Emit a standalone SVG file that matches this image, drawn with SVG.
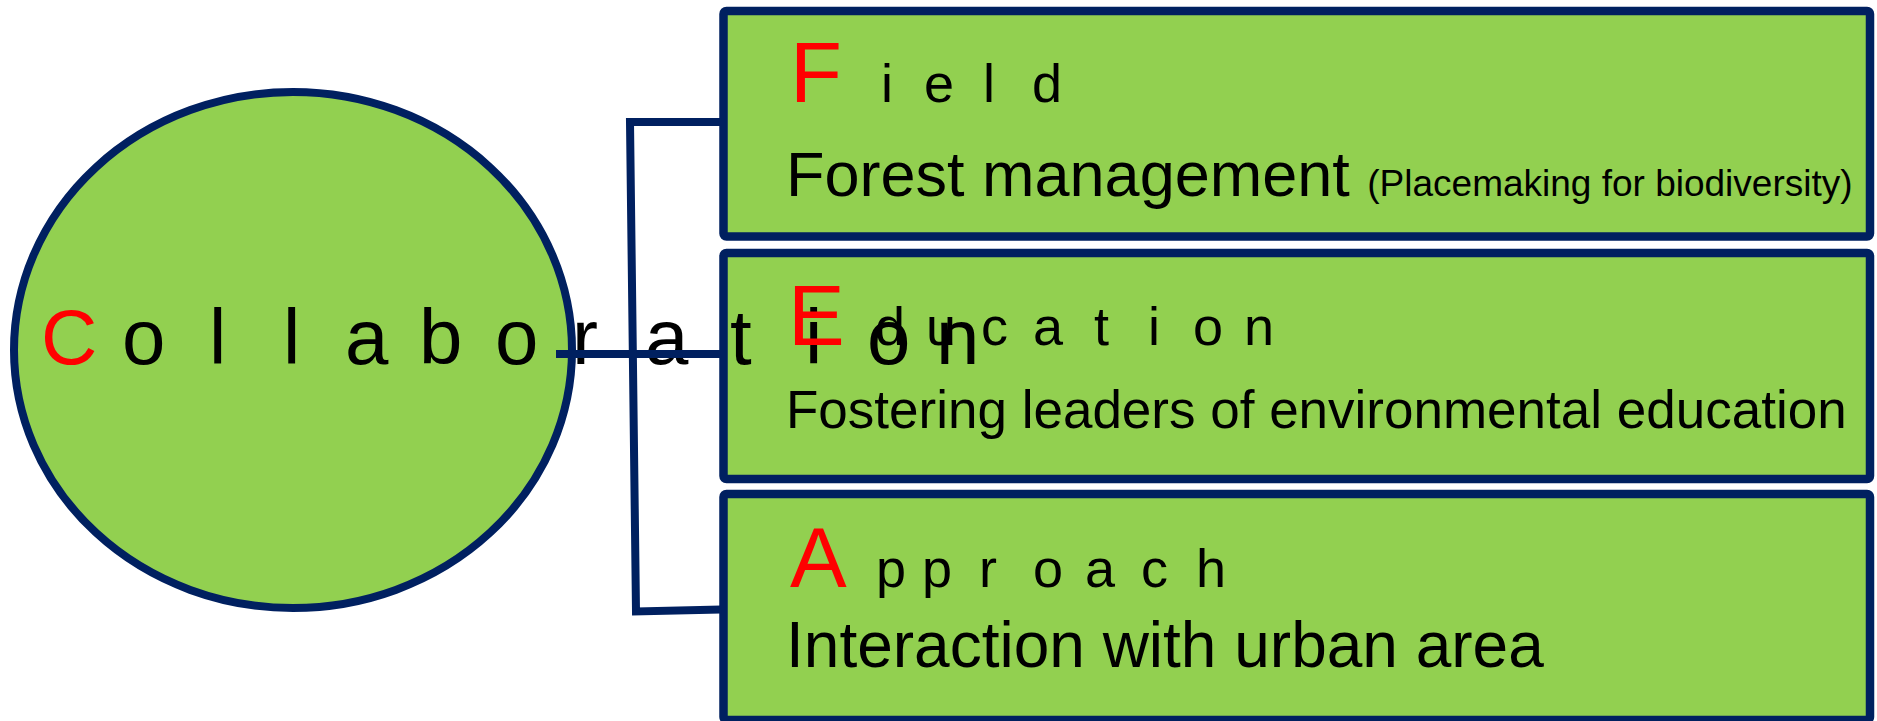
<svg xmlns="http://www.w3.org/2000/svg" width="1877" height="721" viewBox="0 0 1877 721">
<style>
.box{fill:#92D050;stroke:#002060;stroke-width:8.5}
.ell{fill:#92D050;stroke:#002060;stroke-width:8}
.conn{fill:none;stroke:#002060;stroke-width:8;stroke-linejoin:miter}
text{font-family:"Liberation Sans",Arial,sans-serif;fill:#000}
.red{fill:#FF0000}
</style>
<rect width="1877" height="721" fill="#fff"/>
<g id="node-field">
<rect class="box" x="723.5" y="11" width="1146.5" height="225.5" rx="3"/>
<text y="102"><tspan class="red" x="790" font-size="85">F</tspan><tspan font-size="54" x="881 924 983 1032">ield</tspan></text>
<text x="786" y="196" font-size="63">Forest management <tspan font-size="37">(Placemaking for biodiversity)</tspan></text>
</g>
<g id="node-education">
<rect class="box" x="723.5" y="253" width="1146.5" height="226" rx="3"/>
</g>
<g id="node-approach">
<rect class="box" x="723.5" y="494" width="1146.5" height="226" rx="3"/>
<text y="587"><tspan class="red" x="790" font-size="85">A</tspan><tspan font-size="54" x="876 922 979 1033 1085 1141 1196">pproach</tspan></text>
<text x="786" y="667" font-size="64">Interaction with urban area</text>
</g>
<g id="node-collaboration">
<ellipse class="ell" cx="293" cy="350" rx="279" ry="258"/>
<text y="364" font-size="78"><tspan class="red" x="41">C</tspan><tspan x="122 209 283 345 419 495 572 645 730 805 867 936">ollaboration</tspan></text>
</g>
<g id="connectors">
<path class="conn" d="M556,354 L721,354"/>
<path class="conn" d="M721,122 L630,122 L636,611.5 L721,609.5"/>
</g>
<g id="node-education-label">
<text y="345"><tspan class="red" x="788" font-size="85">E</tspan><tspan font-size="54" x="875 926 981 1033 1094 1148 1193 1244">ducation</tspan></text>
<text x="786" y="428" font-size="53">Fostering leaders of environmental education</text>
</g>
</svg>
